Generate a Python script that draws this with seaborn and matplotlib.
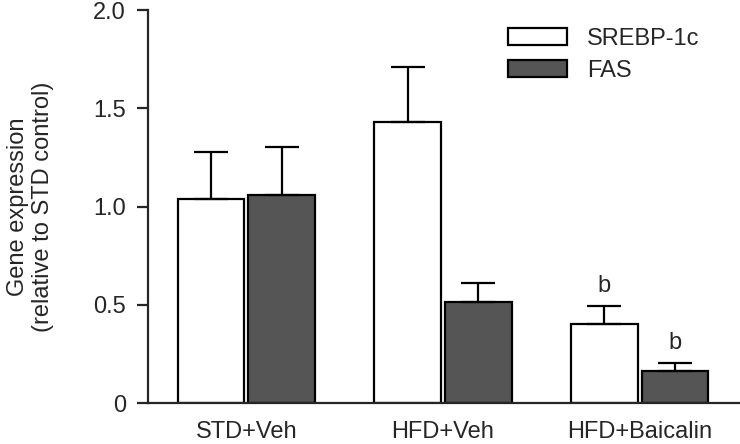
import matplotlib
matplotlib.use("Agg")
import matplotlib.pyplot as plt
import seaborn as sns
import pandas as pd

groups = ["STD+Veh", "HFD+Veh", "HFD+Baicalin"]
genes = ["SREBP-1c", "FAS"]
srebp_mean = [1.04, 1.43, 0.40]
srebp_err = [0.24, 0.28, 0.095]
fas_mean = [1.06, 0.515, 0.165]
fas_err = [0.245, 0.095, 0.04]
marks = ["", "", "b", "", "", "b"]

sns.set_style("ticks")
plt.rcParams["font.family"] = ["Liberation Sans", "DejaVu Sans"]

df = pd.DataFrame({
    "group": groups * 2,
    "gene": [genes[0]] * 3 + [genes[1]] * 3,
    "value": srebp_mean + fas_mean,
})
errs = srebp_err + fas_err

fig = plt.figure(figsize=(7.4, 4.44), dpi=100)
ax = fig.add_axes([0.2, 0.0923, 0.8, 0.885])

sns.barplot(data=df, x="group", y="value", hue="gene", order=groups,
            hue_order=genes, palette=["white", "#555555"], width=0.72,
            gap=0.06, edgecolor="black", linewidth=1.6, errorbar=None, ax=ax)

bars = [p for p in ax.patches if p.get_height() > 0][:6]
for p, e, m in zip(bars, errs, marks):
    xc = p.get_x() + p.get_width() / 2
    top = p.get_height()
    ax.errorbar(xc, top, yerr=[[0], [e]], fmt="none", ecolor="black",
                elinewidth=1.6, capsize=12, capthick=1.6, zorder=1)
    if m:
        ax.text(xc, top + e + 0.045, m, ha="center", va="bottom", fontsize=17)

ax.set_xlim(-0.5, 2.51)
ax.set_ylim(0, 2.0)
ax.set_yticks([0, 0.5, 1.0, 1.5, 2.0])
ax.set_yticklabels(["0", "0.5", "1.0", "1.5", "2.0"])
ax.set_xlabel("")
ax.set_ylabel("Gene expression\n(relative to STD control)", fontsize=17,
              labelpad=28, linespacing=1.2)
ax.tick_params(axis="y", length=8, width=1.6, labelsize=17, pad=8)
ax.tick_params(axis="x", length=0, labelsize=17, pad=13)
for s in ["left", "bottom"]:
    ax.spines[s].set_linewidth(1.6)
sns.despine(ax=ax)
ax.spines["bottom"].set_zorder(3)

leg = ax.legend(loc="upper left", bbox_to_anchor=(0.608, 0.955), frameon=False,
                fontsize=17, handlelength=2.5, handleheight=0.76,
                labelspacing=0.42, handletextpad=0.85, borderaxespad=0,
                borderpad=0)

fig.savefig("out.png", dpi=100)
